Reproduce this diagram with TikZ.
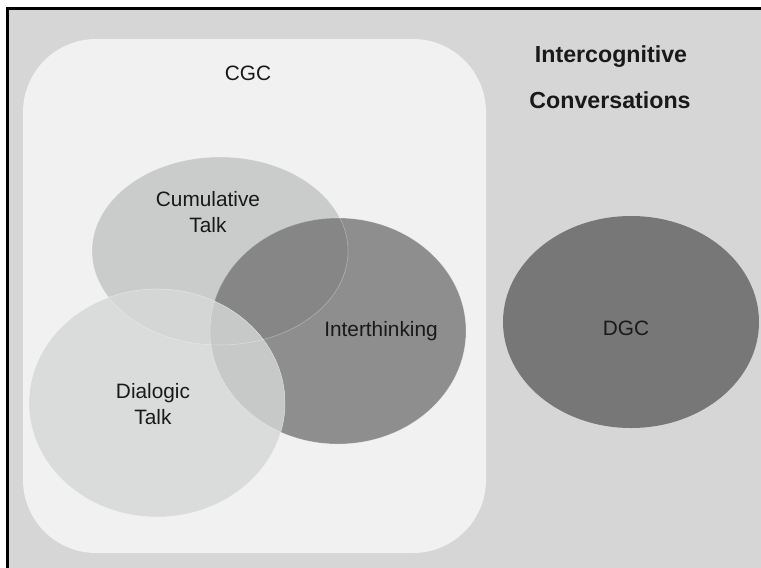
\documentclass[tikz,border=0pt]{standalone}
\usepackage{fontspec}
\setmainfont{Liberation Sans}
\usepackage{tikz}

\definecolor{outerbg}{HTML}{D6D6D6}
\definecolor{cgcbg}{HTML}{F1F1F1}
\definecolor{cumfill}{HTML}{CACBCB}
\definecolor{interfill}{HTML}{8E8E8E}
\definecolor{cuminter}{HTML}{868686}
\definecolor{dialfill}{HTML}{DADCDB}
\definecolor{dialcum}{HTML}{D4D5D5}
\definecolor{dialinter}{HTML}{C7C8C8}
\definecolor{dgcfill}{HTML}{777777}

% ellipse centres and radii
\def\cumellipse{(220,251) ellipse [x radius=128, y radius=94]}
\def\interellipse{(338,331) ellipse [x radius=128, y radius=113]}
\def\dialellipse{(157,403) ellipse [x radius=128, y radius=114]}

\begin{document}
\begin{tikzpicture}[x=0.025cm, y=-0.025cm]
\clip (0,0) rectangle (761,567);
\useasboundingbox (0,0) rectangle (761,567);

% frame and CGC box
\fill[outerbg] (7.5,8.5) rectangle (780,590);
\draw[line width=2pt] (7.5,590) -- (7.5,8.5) -- (780,8.5);
\fill[cgcbg, rounded corners=52pt] (23,39) rectangle (486,553);

% the three talk ellipses and their overlaps
\fill[cumfill] \cumellipse;
\fill[interfill] \interellipse;
\begin{scope}
    \clip \cumellipse;
    \fill[cuminter] \interellipse;
\end{scope}
\fill[dialfill] \dialellipse;
\begin{scope}
    \clip \dialellipse;
    \fill[dialcum] \cumellipse;
    \fill[dialinter] \interellipse;
\end{scope}
\begin{scope}[draw=white, opacity=0.35, line width=0.4pt]
    \draw \cumellipse;
    \draw \interellipse;
    \draw \dialellipse;
\end{scope}

% DGC
\fill[dgcfill] (631,322) ellipse [x radius=128, y radius=106];

\begin{scope}[every node/.style={text=black!90, font=\fontsize{14.8}{19}\selectfont, align=center}]
    \node (cgc) at (248,73) {CGC};
    \node (cum) at (208,212) {Cumulative\\Talk};
    \node (inter) at (381,331) {Interthinking};
    \node (dial) at (153,404) {Dialogic\\Talk};
    \node (dgc) at (626,328) {DGC};
\end{scope}

\begin{scope}[every node/.style={text=black!90, font=\fontsize{16.5}{20}\selectfont\bfseries}]
    \node (icog) at (611,57) {Intercognitive};
    \node (conv) at (610,100) {Conversations};
\end{scope}
\end{tikzpicture}
\end{document}
